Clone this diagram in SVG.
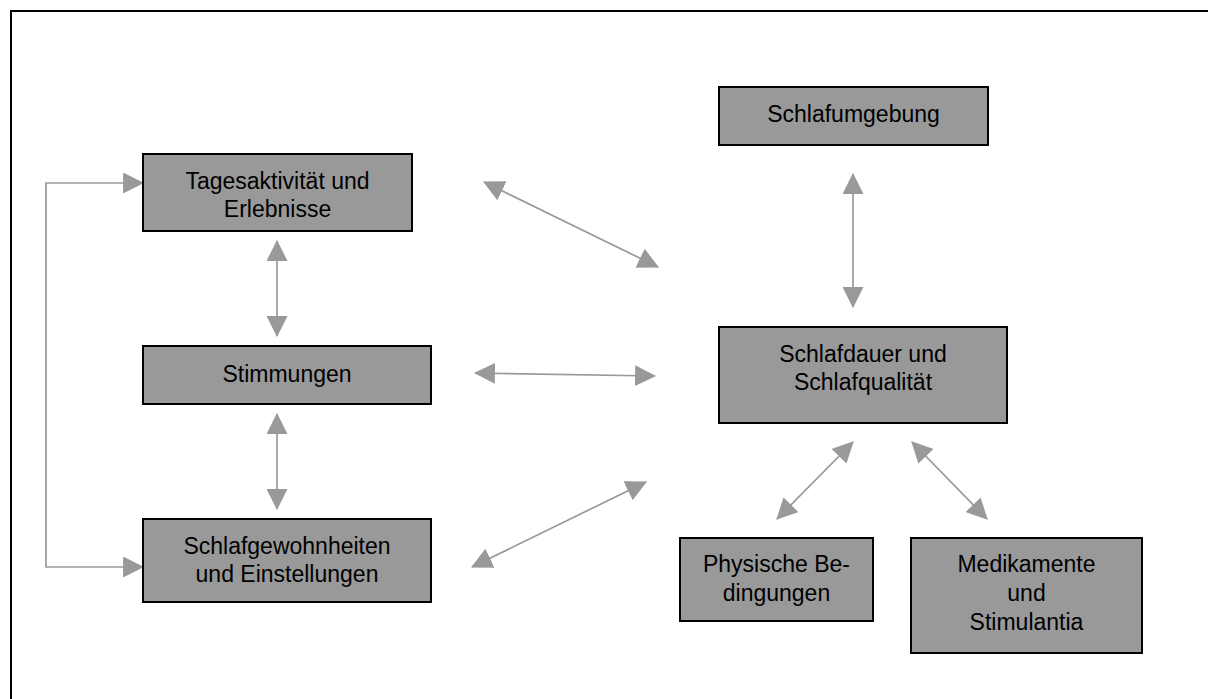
<svg xmlns="http://www.w3.org/2000/svg" width="1208" height="699" viewBox="0 0 1208 699">
  <style>
    .box { fill: #999999; stroke: #000000; stroke-width: 2; }
    .lbl { font-family: "Liberation Sans", Arial, sans-serif; font-size: 23px; fill: #000000; text-anchor: middle; }
    .con { fill: none; stroke: #999999; stroke-width: 1.7; marker-start: url(#ah); marker-end: url(#ah); }
  </style>
  <defs>
    <marker id="ah" viewBox="0 0 10 10" refX="9.5" refY="5" markerUnits="userSpaceOnUse" markerWidth="21" markerHeight="21" orient="auto-start-reverse">
      <path d="M0,0 L10,5 L0,10 z" fill="#999999"/>
    </marker>
  </defs>
  <rect x="0" y="0" width="1208" height="699" fill="#ffffff"/>
  <rect x="11" y="11" width="1300" height="800" fill="none" stroke="#000000" stroke-width="2"/>

  <g id="connectors">
    <path class="con" d="M143,183 H46 V567 H143"/>
    <line class="con" x1="277" y1="241" x2="277" y2="336"/>
    <line class="con" x1="277" y1="414" x2="277" y2="509"/>
    <line class="con" x1="484" y1="182" x2="658" y2="267"/>
    <line class="con" x1="475" y1="373" x2="655" y2="376"/>
    <line class="con" x1="472" y1="567" x2="646" y2="482"/>
    <line class="con" x1="853" y1="174" x2="853" y2="307"/>
    <line class="con" x1="853" y1="442" x2="777" y2="519"/>
    <line class="con" x1="912" y1="442" x2="987" y2="519"/>
  </g>

  <g id="tagesaktivitaet">
    <rect class="box" x="143" y="154" width="269" height="77"/>
    <text class="lbl" x="277.5" y="189">Tagesaktivität und</text>
    <text class="lbl" x="277.5" y="217">Erlebnisse</text>
  </g>
  <g id="stimmungen">
    <rect class="box" x="143" y="346" width="288" height="58"/>
    <text class="lbl" x="287" y="382">Stimmungen</text>
  </g>
  <g id="schlafgewohnheiten">
    <rect class="box" x="143" y="519" width="288" height="83"/>
    <text class="lbl" x="287" y="554">Schlafgewohnheiten</text>
    <text class="lbl" x="287" y="582">und Einstellungen</text>
  </g>
  <g id="schlafumgebung">
    <rect class="box" x="719" y="87" width="269" height="58"/>
    <text class="lbl" x="853.5" y="122">Schlafumgebung</text>
  </g>
  <g id="schlafdauer">
    <rect class="box" x="719" y="327" width="288" height="96"/>
    <text class="lbl" x="863" y="362">Schlafdauer und</text>
    <text class="lbl" x="863" y="390">Schlafqualität</text>
  </g>
  <g id="physische">
    <rect class="box" x="680" y="538" width="193" height="83"/>
    <text class="lbl" x="776.5" y="572">Physische Be-</text>
    <text class="lbl" x="776.5" y="601">dingungen</text>
  </g>
  <g id="medikamente">
    <rect class="box" x="911" y="538" width="231" height="115"/>
    <text class="lbl" x="1026.5" y="572">Medikamente</text>
    <text class="lbl" x="1026.5" y="601">und</text>
    <text class="lbl" x="1026.5" y="630">Stimulantia</text>
  </g>
</svg>
